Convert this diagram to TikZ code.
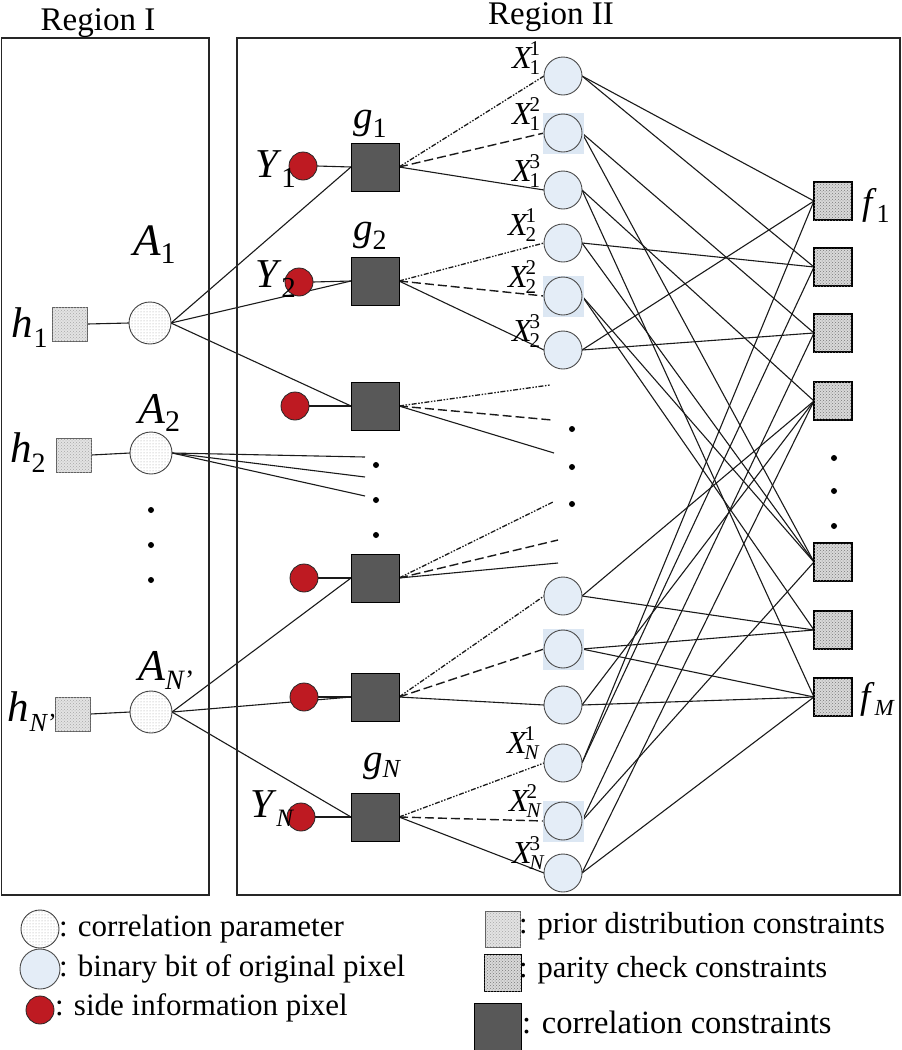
\documentclass[tikz,border=0pt]{standalone}
\usepackage{fontspec}
\setmainfont{Liberation Serif}
\usetikzlibrary{patterns}
\pgfdeclarelayer{bg}
\pgfsetlayers{bg,main}
\definecolor{xblue}{HTML}{E4EDF7}
\definecolor{xsq}{HTML}{DCE7F3}
\definecolor{yred}{HTML}{BE1A22}
\definecolor{gdark}{HTML}{585858}
\definecolor{lineblk}{HTML}{1A1A1A}
\newcommand{\sy}[5]{{\fontsize{#1}{#1}\selectfont\itshape #3\/}{\fontsize{#2}{#2}\selectfont\raisebox{-#5pt}{#4}}}
\newcommand{\xs}[2]{{\fontsize{32}{32}\selectfont\itshape X}\kern-2pt{\fontsize{21}{21}\selectfont\makebox[0pt][l]{\raisebox{13pt}{#2}}\raisebox{-6pt}{#1}}}
\tikzset{
 every node/.style={inner sep=0pt, outer sep=0pt},
 hbox/.style={draw=gray!75!black, line width=0.8pt, fill=gray!22, minimum width=35pt, minimum height=34pt, postaction={pattern=crosshatch dots, pattern color=gray!70}},
 acirc/.style={circle, draw=black!75, line width=0.9pt, fill=white, minimum size=42pt, postaction={pattern=dots, pattern color=gray!75}},
 xcirc/.style={circle, draw=black!70, line width=0.9pt, fill=xblue, minimum size=38pt},
 ycirc/.style={circle, draw=black!85, line width=0.8pt, fill=yred, minimum size=28pt},
 gbox/.style={draw=black, line width=1pt, fill=gdark, minimum size=48pt},
 fbox/.style={draw=black, line width=1.3pt, fill=gray!30, minimum size=38pt, postaction={pattern=crosshatch dots, pattern color=gray!95!black}},
 dotn/.style={circle, fill=black, minimum size=6pt},
 conn/.style={draw=lineblk, line width=1.1pt},
 ddot/.style={conn, line width=1.3pt, dash pattern=on 5pt off 1.6pt on 1.5pt off 1.6pt on 1.5pt off 1.6pt},
 dsh/.style={conn, line width=1.4pt, dash pattern=on 9pt off 4pt},
 region/.style={draw=black!85, line width=1.3pt},
 legtxt/.style={font=\fontsize{31}{34}\selectfont, anchor=west},
 lbl/.style={anchor=base west},
}
\begin{document}
\begin{tikzpicture}[x=1pt,y=-1pt]
\useasboundingbox (0,0) rectangle (902,1050);
% regions
\draw[region] (1.5,38) rectangle (209,895);
\draw[region] (237,38) rectangle (900,895);
\node[anchor=base, font=\fontsize{33}{36}\selectfont] (r1) at (98,30) {Region I};
\node[anchor=base, font=\fontsize{33}{36}\selectfont] (r2) at (551,24) {Region II};
% region I
\node[hbox] (h1) at (70,324) {};
\node[hbox] (h2) at (74,455) {};
\node[hbox] (h3) at (73,714) {};
\node[acirc] (a1) at (150,323) {};
\node[acirc] (a2) at (151,453) {};
\node[acirc] (a3) at (151,712) {};
\node[dotn] (ld1) at (151,510) {};
\node[dotn] (ld2) at (151,545) {};
\node[dotn] (ld3) at (151,580) {};
\node[lbl] (th1) at (12,337) {\sy{43}{28}{h}{1}{10}};
\node[lbl] (th2) at (10,462) {\sy{43}{28}{h}{2}{10}};
\node[lbl] (th3) at (8,721) {\sy{43}{26}{h}{\textit{N}'}{10}};
\node[lbl] (ta1) at (133,255) {\sy{45}{30}{A}{1}{8}};
\node[lbl] (ta2) at (138,423) {\sy{44}{30}{A}{2}{8}};
\node[lbl] (ta3) at (138,680) {\sy{44}{28}{A}{\textit{N}'}{9}};
% Y and g
\node[ycirc] (y1) at (303,166) {};
\node[ycirc] (y2) at (299,282) {};
\node[ycirc] (y3) at (295,406) {};
\node[ycirc] (y4) at (304,578) {};
\node[ycirc] (y5) at (304,697) {};
\node[ycirc] (y6) at (301,817) {};
\node[gbox] (g1) at (375,167) {};
\node[gbox] (g2) at (375,281) {};
\node[gbox] (g3) at (375,406) {};
\node[gbox] (g4) at (375,578) {};
\node[gbox] (g5) at (375,697) {};
\node[gbox] (g6) at (375,817) {};
\node[lbl] (ty1) at (255,177) {\sy{41}{29}{Y}{1}{10}};
\node[lbl] (ty2) at (255,287) {\sy{41}{29}{Y}{2}{10}};
\node[lbl] (ty6) at (250,817) {\sy{41}{25}{Y}{\textit{N}}{9}};
\node[lbl] (tg1) at (353,128) {\sy{39}{28}{g}{1}{9}};
\node[lbl] (tg2) at (353,240) {\sy{39}{28}{g}{2}{9}};
\node[lbl] (tg6) at (363,771) {\sy{39}{26}{g}{\textit{N}}{6}};
\node[dotn] (md1) at (376,465) {};
\node[dotn] (md2) at (376,500) {};
\node[dotn] (md3) at (376,535) {};
\coordinate (a21) at (365,457);
\coordinate (a22) at (365,477);
\coordinate (a23) at (365,496);
% X nodes
\foreach \n/\yy in {2/133,5/296,8/649,11/821}
  \node[fill=xsq, minimum size=41pt] (xs\n) at (563,\yy) {};
\foreach \n/\yy in {1/76,2/133,3/190,4/243,5/296,6/350,7/596,8/649,9/705,10/763,11/821,12/873}
  \node[xcirc] (x\n) at (563,\yy) {};
\node[lbl] (tx1) at (512,68) {\xs{1}{1}};
\node[lbl] (tx2) at (512,124) {\xs{1}{2}};
\node[lbl] (tx3) at (512,181) {\xs{1}{3}};
\node[lbl] (tx4) at (508,235) {\xs{2}{1}};
\node[lbl] (tx5) at (508,287) {\xs{2}{2}};
\node[lbl] (tx6) at (512,341) {\xs{2}{3}};
\node[lbl] (tx10) at (507,753) {\xs{\textit{N}}{1}};
\node[lbl] (tx11) at (509,811) {\xs{\textit{N}}{2}};
\node[lbl] (tx12) at (512,863) {\xs{\textit{N}}{3}};
\node[dotn] (rd1) at (572,429) {};
\node[dotn] (rd2) at (572,467) {};
\node[dotn] (rd3) at (572,504) {};
\coordinate (c31) at (550,385);
\coordinate (c32) at (552,420);
\coordinate (c33) at (554,453);
\coordinate (c41) at (553,502);
\coordinate (c42) at (558,540);
\coordinate (c43) at (558,563);
% f nodes
\foreach \n/\yy in {1/201,2/267,3/333,4/401,5/562,6/630,7/697}
  \node[fbox] (f\n) at (833,\yy) {};
\node[dotn] (fd1) at (834,458) {};
\node[dotn] (fd2) at (834,491) {};
\node[dotn] (fd3) at (834,526) {};
\node[lbl] (tf1) at (862,214) {\sy{37}{26}{f}{1}{8}};
\node[lbl] (tf7) at (860,708) {\sy{37}{23}{f}{\textit{M}}{7}};
% connectors
\begin{pgfonlayer}{bg}
\draw[conn] (h1.east) -- (a1.west);
\draw[conn] (h2.east) -- (a2.west);
\draw[conn] (h3.east) -- (a3.west);
\draw[conn] (a1.east) -- (g1.west);
\draw[conn] (a1.east) -- (g2.west);
\draw[conn] (a1.east) -- (g3.west);
\draw[conn] (a2.east) -- (a21);
\draw[conn] (a2.east) -- (a22);
\draw[conn] (a2.east) -- (a23);
\draw[conn] (a3.east) -- (g4.west);
\draw[conn] (a3.east) -- (g5.west);
\draw[conn] (a3.east) -- (g6.west);
\foreach \i in {1,...,6} \draw[conn] (y\i.east) -- (g\i.west);
\draw[ddot] (g1.east) -- (x1.west);
\draw[dsh] (g1.east) -- (x2.west);
\draw[conn] (g1.east) -- (x3.west);
\draw[ddot] (g2.east) -- (x4.west);
\draw[dsh] (g2.east) -- (x5.west);
\draw[conn] (g2.east) -- (x6.west);
\draw[ddot] (g3.east) -- (c31);
\draw[dsh] (g3.east) -- (c32);
\draw[conn] (g3.east) -- (c33);
\draw[ddot] (g4.east) -- (c41);
\draw[dsh] (g4.east) -- (c42);
\draw[conn] (g4.east) -- (c43);
\draw[ddot] (g5.east) -- (x7.west);
\draw[dsh] (g5.east) -- (x8.west);
\draw[conn] (g5.east) -- (x9.west);
\draw[ddot] (g6.east) -- (x10.west);
\draw[dsh] (g6.east) -- (x11.west);
\draw[conn] (g6.east) -- (x12.west);
\foreach \a/\b in {1/1,1/2,2/3,2/5,3/4,3/7,4/2,4/5,5/5,5/6,6/1,6/3,7/4,7/6,8/6,8/7,9/7,9/4,10/1,10/2,11/3,11/5,12/7,12/4}
  \draw[conn] (x\a.east) -- (f\b.west);
\end{pgfonlayer}
% legend
\node[acirc, minimum size=38pt] (la) at (40,929) {};
\node[legtxt] (lta) at (59,929) {: correlation parameter};
\node[xcirc, minimum size=40pt] (lb) at (40,969) {};
\node[legtxt] (ltb) at (59,969) {: binary bit of original pixel};
\node[ycirc] (lc) at (40,1010) {};
\node[legtxt] (ltc) at (55,1008) {: side information pixel};
\node[hbox, minimum width=35pt, minimum height=36pt] (ld) at (503,929) {};
\node[legtxt, font=\fontsize{30.5}{34}\selectfont] (ltd) at (519,926) {: prior distribution constraints};
\node[fbox, minimum size=37pt] (le) at (503,973) {};
\node[legtxt, font=\fontsize{30.5}{34}\selectfont] (lte) at (519,970) {: parity check constraints};
\node[gbox, minimum size=47pt] (lf) at (498,1027) {};
\node[legtxt, font=\fontsize{32.5}{35}\selectfont] (ltf) at (522,1022) {: correlation constraints};
\end{tikzpicture}
\end{document}
